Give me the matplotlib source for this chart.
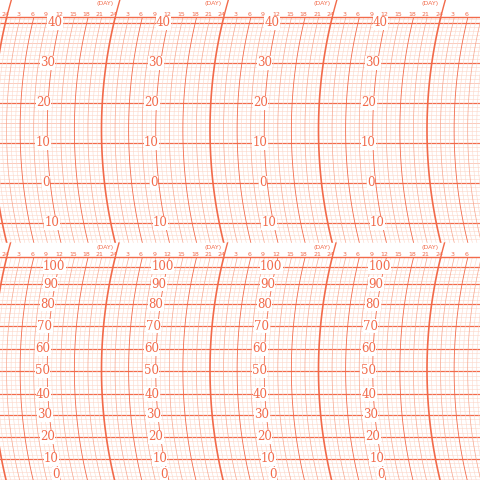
import numpy as np
import matplotlib
matplotlib.use("Agg")
import matplotlib.pyplot as plt

hour_labels = ["24", "3", "6", "9", "12", "15", "18", "21"]
temp_labels = [40, 30, 20, 10, 0, -10]
hum_labels = [100, 90, 80, 70, 60, 50, 40, 30, 20, 10, 0]
hum_pix = [267, 284, 304, 326, 349, 371, 394, 415, 437, 459, 480]

MAJ = "#f26a4a"; MID = "#f7a58d"; MIN = "#fcd6c8"
fig = plt.figure(figsize=(4.8, 4.8), dpi=100)
ax = fig.add_axes([0, 0, 1, 1])
ax.set_xlim(0, 480); ax.set_ylim(480, 0); ax.axis("off")
day_w = 108.5; hr = day_w / 24; R = 470.0

def arc(x0, y0, y1, yc, **kw):
    y = np.linspace(y0, y1, 60)
    x = x0 + (R - np.sqrt(R**2 - (y - yc)**2))
    ax.plot(x, y, **kw)

panels = [dict(top=18, bot=243, yc=130, head=0),
          dict(top=258, bot=480, yc=370, head=243)]
for p in panels:
    if p["head"] == 0:
        for T in np.arange(-16, 42, 1):
            y = 183 - 4.0 * T
            if y < p["top"] or y > p["bot"]: continue
            ax.axhline(y, color=MAJ if T % 10 == 0 else (MID if T % 5 == 0 else MIN),
                       lw=0.9 if T % 10 == 0 else 0.4, zorder=1)
    else:
        for h in np.arange(0, 101, 2):
            y = np.interp(h, hum_labels[::-1], hum_pix[::-1])
            ax.axhline(y, color=MAJ if h % 10 == 0 else MIN,
                       lw=0.9 if h % 10 == 0 else 0.4, zorder=1)
    for d in range(-1, 5):
        x0 = 5 - 12 + d * day_w
        for h in range(24):
            xs = x0 + h * hr
            if h == 0: c, w = MAJ, 1.2
            elif h % 6 == 0: c, w = MAJ, 0.6
            elif h % 3 == 0: c, w = MID, 0.5
            else: c, w = MIN, 0.4
            arc(xs, p["top"], p["bot"], p["yc"], color=c, lw=w, zorder=2)
            if h == 0:
                arc(xs, p["head"], p["top"], p["yc"], color=MAJ, lw=1.0, zorder=4)
    ax.add_patch(plt.Rectangle((0, p["head"]), 480, p["top"] - p["head"] - 8,
                               color="white", zorder=3))
    ax.axhline(p["top"] - 1, color=MAJ, lw=1.0, zorder=4)
    for d in range(-1, 5):
        x0 = 5 + d * day_w
        for i, lab in enumerate(hour_labels):
            xl = x0 + i * 3 * hr
            if 3 < xl < 476:
                ax.text(xl, p["top"] - 4, lab, color=MAJ, fontsize=4.5,
                        ha="center", va="center", zorder=5)
        if 10 < x0 + 100 < 470:
            ax.text(x0 + 100, p["head"] + 4, "(DAY)", color=MAJ, fontsize=4.5,
                    ha="center", va="center", zorder=5)
    for d in range(0, 4):
        x0 = 5 - 12 + d * day_w + 11 * hr
        if p["head"] == 0:
            pairs = [(abs(T), 183 - 4.0 * T) for T in temp_labels]
        else:
            pairs = list(zip(hum_labels, hum_pix))
        for v, y in pairs:
            x = x0 + (R - np.sqrt(R**2 - (y - p["yc"])**2))
            ax.text(x, min(y, 474), str(v), color=MAJ, fontsize=8.5, family="DejaVu Serif",
                    ha="center", va="center", zorder=5,
                    bbox=dict(fc="white", ec="none", pad=0.2))
fig.savefig("out.png", dpi=100, facecolor="white")
